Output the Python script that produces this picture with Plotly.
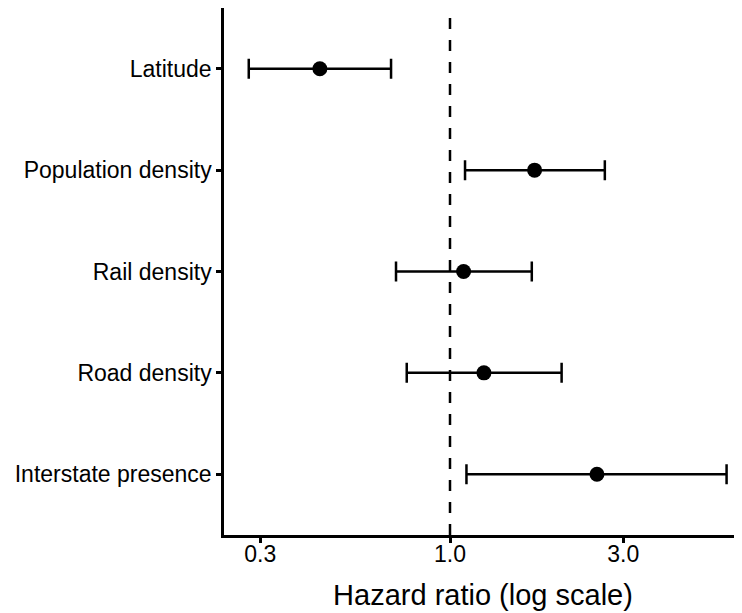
import plotly.graph_objects as go

labels = ["Latitude", "Population density", "Rail density", "Road density", "Interstate presence"]
hr = [0.438, 1.71, 1.09, 1.24, 2.54]
ci_low = [0.279, 1.10, 0.71, 0.76, 1.11]
ci_high = [0.688, 2.67, 1.68, 2.03, 5.78]
x_tickvals = [0.3, 1.0, 3.0]
x_ticktext = ["0.3", "1.0", "3.0"]

err_plus = [h - e for h, e in zip(ci_high, hr)]
err_minus = [e - l for e, l in zip(hr, ci_low)]

fig = go.Figure()
fig.add_trace(go.Scatter(
    x=hr, y=labels, mode="markers",
    marker=dict(color="black", size=15),
    error_x=dict(type="data", symmetric=False, array=err_plus, arrayminus=err_minus,
                 color="black", thickness=2.5, width=10),
    showlegend=False,
))

fig.add_shape(type="line", x0=1, x1=1, xref="x", y0=0, y1=1, yref="paper",
              line=dict(color="black", width=2.5, dash="11px,11px"), layer="below")

# page body has an 8px default margin; size the figure to fit the 742x613 window
fig.update_layout(
    width=734, height=605,
    margin=dict(l=216, r=0, t=0, b=78, autoexpand=False),
    paper_bgcolor="white", plot_bgcolor="white",
    font=dict(family="Liberation Sans, Arial, sans-serif", size=23, color="black"),
)
fig.update_xaxes(
    type="log", range=[-0.6226, 0.8044],
    tickvals=x_tickvals, ticktext=x_ticktext,
    showgrid=False, zeroline=False,
    showline=True, linecolor="black", linewidth=2.5,
    ticks="outside", ticklen=5, tickwidth=2.5, tickcolor="black",
    ticklabelstandoff=-8,
    automargin=False,
    title=dict(text="Hazard ratio (log scale)", font=dict(size=29), standoff=19),
)
fig.update_yaxes(
    type="category", categoryorder="array", categoryarray=labels[::-1],
    range=[-0.6, 4.6],
    showgrid=False, zeroline=False,
    showline=True, linecolor="black", linewidth=2.5,
    ticks="outside", ticklen=5, tickwidth=2.5, tickcolor="black",
    automargin=False,
)

fig.write_html("out.html")
